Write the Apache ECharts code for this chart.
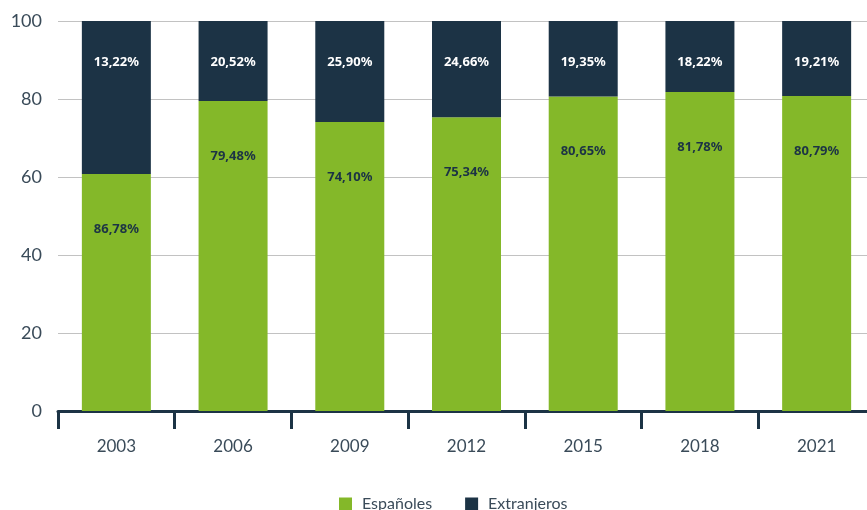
<!DOCTYPE html>
<html>
<head>
<meta charset="utf-8">
<script src="https://cdn.jsdelivr.net/npm/echarts@6/dist/echarts.min.js"></script>
<style>
  html, body { margin: 0; padding: 0; background: #fff; overflow: hidden; }
  /* a bit wider than the window: the last category is cut by the right edge, as in the original */
  #chart { width: 875px; height: 510px; }
</style>
</head>
<body>
<div id="chart"></div>
<script>
const years = ["2003", "2006", "2009", "2012", "2015", "2018", "2021"];
// bar heights as drawn in the picture
const espanoles = [60.8, 79.48, 74.1, 75.34, 80.65, 81.78, 80.79];
const extranjeros = [39.2, 20.52, 25.9, 24.66, 19.35, 18.22, 19.21];
// labels as printed on the bars
const espanolesLabels = ["86,78%", "79,48%", "74,10%", "75,34%", "80,65%", "81,78%", "80,79%"];
const extranjerosLabels = ["13,22%", "20,52%", "25,90%", "24,66%", "19,35%", "18,22%", "19,21%"];

const GREEN = "#84b829";
const NAVY = "#1c3345";
const TEXT = "#3a4b59";

const chart = echarts.init(document.getElementById("chart"), null, { renderer: "canvas" });

const option = {
  animation: false,
  grid: { left: 58, right: 0, top: 21, bottom: 99, containLabel: false },
  legend: {
    data: ["Españoles", "Extranjeros"],
    left: 334,
    top: 491,
    icon: "rect",
    itemWidth: 13,
    itemHeight: 13,
    itemGap: 33,
    textStyle: { color: TEXT, fontSize: 16, fontFamily: "Lato", padding: [0, 0, 0, 5] },
  },
  xAxis: {
    type: "category",
    data: years,
    axisLine: { lineStyle: { color: NAVY, width: 3 } },
    axisTick: { show: true, length: 18, lineStyle: { color: NAVY, width: 3 } },
    axisLabel: { color: TEXT, fontSize: 17, fontFamily: "Lato", margin: 27 },
  },
  yAxis: {
    type: "value",
    min: 0,
    max: 100,
    interval: 20,
    axisLine: { show: false },
    axisTick: { show: false },
    axisLabel: { color: TEXT, fontSize: 18, fontFamily: "Lato", margin: 16 },
    splitLine: { lineStyle: { color: "#c2c2c2", width: 1 } },
  },
  series: [
    {
      name: "Españoles",
      type: "bar",
      stack: "total",
      barWidth: 69,
      itemStyle: { color: GREEN },
      data: espanoles,
      label: {
        show: true,
        position: ["50%", 55],
        align: "center",
        verticalAlign: "middle",
        color: NAVY,
        fontSize: 13,
        fontWeight: "bold",
        fontFamily: "Noto Sans",
        formatter: p => espanolesLabels[p.dataIndex],
      },
    },
    {
      name: "Extranjeros",
      type: "bar",
      stack: "total",
      barWidth: 69,
      itemStyle: { color: NAVY },
      data: extranjeros,
      label: {
        show: true,
        position: ["50%", 41],
        align: "center",
        verticalAlign: "middle",
        color: "#ffffff",
        fontSize: 13,
        fontWeight: "bold",
        fontFamily: "Noto Sans",
        formatter: p => extranjerosLabels[p.dataIndex],
      },
    },
  ],
};

chart.setOption(option);
</script>
</body>
</html>
